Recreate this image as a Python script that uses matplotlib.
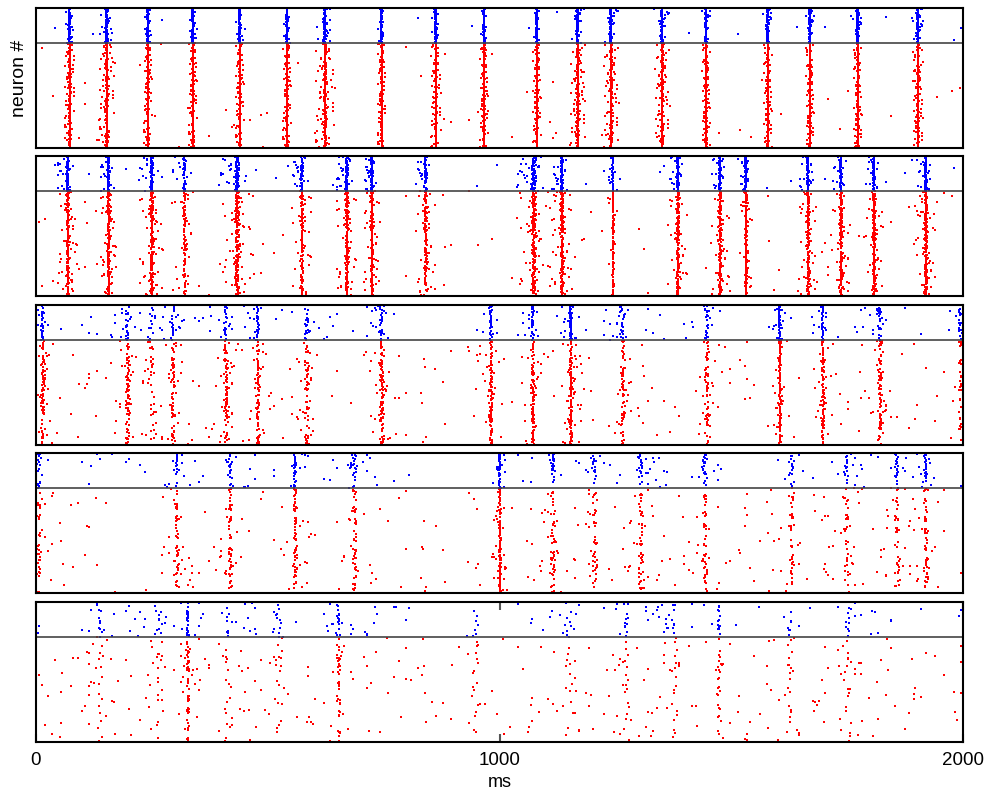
import numpy as np
import matplotlib.pyplot as plt

plt.rcParams['font.family'] = ['Liberation Sans', 'DejaVu Sans']

N_EXC = 300   # excitatory cells, drawn red at the bottom
N_INH = 100   # inhibitory cells, drawn blue on top
T_MAX = 2000  # ms

# population bursts of each run: time (ms), spread (ms), fraction of cells firing
burst_t_1 = [73, 153, 242, 339, 440, 542, 624, 746, 863, 967, 1081, 1169, 1241, 1351, 1446, 1579, 1670, 1773, 1903]
burst_w_1 = [1, 1.5, 0.8, 0.8, 0.8, 0.8, 2, 0.8, 1, 0.8, 0.8, 1.5, 1.5, 1.5, 0.8, 0.8, 0.8, 0.8, 1]
burst_f_1 = [0.95, 0.9, 0.95, 0.95, 0.95, 0.95, 0.9, 0.95, 0.9, 0.95, 0.95, 0.9, 0.9, 0.9, 0.95, 0.95, 0.95, 0.95, 0.95]

burst_t_2 = [69, 157, 250, 321, 434, 574, 671, 725, 841, 1074, 1135, 1245, 1385, 1476, 1532, 1666, 1737, 1808, 1920]
burst_w_2 = [2, 1.5, 2.5, 2.5, 3.5, 2, 2, 1.5, 2, 3.5, 2, 1.2, 2, 2, 1.2, 2, 2, 2, 2]
burst_f_2 = [0.6, 0.65, 0.65, 0.35, 0.7, 0.5, 0.7, 0.7, 0.45, 0.7, 0.7, 0.35, 0.6, 0.6, 0.6, 0.6, 0.6, 0.6, 0.7]

burst_t_3 = [15, 198, 250, 296, 410, 479, 585, 746, 982, 1072, 1154, 1266, 1448, 1605, 1698, 1821, 1994]
burst_w_3 = [3, 4, 7, 4, 5, 2.5, 5, 3.5, 2.5, 2.5, 2, 4, 4.5, 2, 2.5, 4.5, 3]
burst_f_3 = [0.3, 0.3, 0.12, 0.25, 0.3, 0.3, 0.25, 0.35, 0.35, 0.35, 0.45, 0.25, 0.25, 0.4, 0.35, 0.3, 0.15]

burst_t_4 = [6, 304, 419, 559, 688, 1001, 1115, 1206, 1305, 1443, 1631, 1750, 1858, 1920]
burst_w_4 = [5, 3, 3.5, 3, 4.5, 1.5, 4.5, 4.5, 4.5, 4.5, 4.5, 5, 4.5, 3.5]
burst_f_4 = [0.15, 0.2, 0.2, 0.25, 0.18, 0.4, 0.2, 0.15, 0.2, 0.18, 0.15, 0.15, 0.15, 0.2]

burst_t_5 = [140, 265, 328, 415, 525, 654, 950, 1150, 1273, 1377, 1474, 1625, 1752]
burst_w_5 = [9, 7, 2.5, 7, 7, 2.5, 9, 9, 7, 7, 3.5, 7, 7]
burst_f_5 = [0.05, 0.06, 0.2, 0.05, 0.06, 0.12, 0.04, 0.05, 0.06, 0.06, 0.1, 0.06, 0.06]

# isolated spikes outside the bursts
bg_exc = [60, 100, 140, 160, 260]
bg_inh = [25, 40, 65, 70, 90]

runs = [
    (burst_t_1, burst_w_1, burst_f_1),
    (burst_t_2, burst_w_2, burst_f_2),
    (burst_t_3, burst_w_3, burst_f_3),
    (burst_t_4, burst_w_4, burst_f_4),
    (burst_t_5, burst_w_5, burst_f_5),
]


def qseq(n, a, c):
    # quadratic Weyl sequence in [0, 1)
    i = np.arange(n) + c
    return (i * i * a + i * 0.5) % 1.0


def burst_spikes(t0, w, frac, n_cells, first_id, key):
    pick = qseq(n_cells, np.sqrt(2) - 1, 3 * key + 1) < frac
    s = 2 * qseq(n_cells, np.sqrt(3) - 1, 7 * key + 2) - 1
    # tight core with a few stragglers
    offs = w * (s + 10 * s ** 13)
    ids = first_id + np.arange(n_cells)
    return t0 + offs[pick], ids[pick]


def background(n, n_cells, first_id, key):
    t = qseq(n, (np.sqrt(5) - 1) / 2, 11 * key + 5) * T_MAX
    ids = first_id + qseq(n, np.sqrt(7) - 2, 13 * key + 3) * n_cells
    return t, ids


fig = plt.figure(figsize=(9.99, 7.90), dpi=100)
bottoms = [0.8127, 0.6253, 0.4367, 0.2494, 0.0608]
axes = []
for p, (bt, bw, bf) in enumerate(runs):
    ax = fig.add_axes([0.036, bottoms[p], 0.928, 0.1772])
    axes.append(ax)

    ex_t, ex_i, in_t, in_i = [], [], [], []
    for k, (t0, w, f) in enumerate(zip(bt, bw, bf)):
        key = 40 * p + k
        t, i = burst_spikes(t0, w, f, N_EXC, 0, key)
        ex_t.append(t); ex_i.append(i)
        t, i = burst_spikes(t0 - 1, w, min(1.0, 1.3 * f), N_INH, N_EXC, key + 500)
        in_t.append(t); in_i.append(i)
    t, i = background(bg_exc[p], N_EXC, 0, p)
    ex_t.append(t); ex_i.append(i)
    t, i = background(bg_inh[p], N_INH, N_EXC, p + 20)
    in_t.append(t); in_i.append(i)

    ax.plot(np.concatenate(ex_t), np.concatenate(ex_i), 's', color='#ff0000',
            ms=1.8, mew=0, linestyle='none')
    ax.plot(np.concatenate(in_t), np.concatenate(in_i), 's', color='#0000ff',
            ms=1.8, mew=0, linestyle='none')
    ax.axhline(N_EXC, color='#444444', lw=1.2)

    ax.set_xlim(0, T_MAX)
    ax.set_ylim(0, N_EXC + N_INH)
    ax.set_yticks([])
    for s in ax.spines.values():
        s.set_linewidth(1.5)
    if p < len(runs) - 1:
        ax.set_xticks([])

axes[0].set_ylabel('neuron #', fontsize=14, labelpad=6)
last = axes[-1]
last.set_xticks([0, 1000, 2000])
last.tick_params(axis='x', direction='in', top=True, length=6, width=1.5,
                 color='#555555', labelsize=13.5, pad=7)
last.set_xlabel('ms', fontsize=13, labelpad=4)

fig.savefig('out.png', dpi=100)
